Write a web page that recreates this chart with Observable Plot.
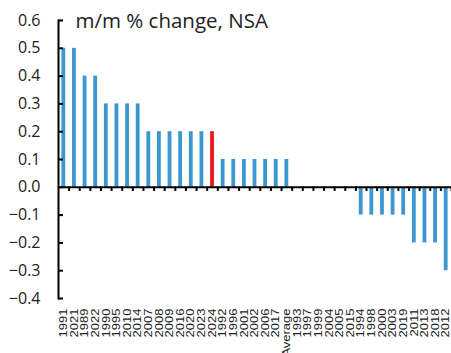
<!DOCTYPE html>
<html><head><meta charset="utf-8">
<script src="https://cdn.jsdelivr.net/npm/d3@7"></script>
<script src="https://cdn.jsdelivr.net/npm/@observablehq/plot@0.6"></script>
<style>body{margin:0;background:#fff}</style>
</head><body><div id="chart"></div>
<script>
const categories = ["1991","2021","1989","2022","1990","1995","2010","2014","2007","2008","2009","2016","2020","2023","2024","1992","1996","2001","2002","2006","2017","Average","1993","1997","1999","2004","2005","2015","1994","1998","2000","2003","2019","2011","2013","2018","2012"];
const values = [0.5,0.5,0.4,0.4,0.3,0.3,0.3,0.3,0.2,0.2,0.2,0.2,0.2,0.2,0.2,0.1,0.1,0.1,0.1,0.1,0.1,0.1,0,0,0,0,0,0,-0.1,-0.1,-0.1,-0.1,-0.1,-0.2,-0.2,-0.2,-0.3];
const highlight = "2024";
const yTicks = [-0.4,-0.3,-0.2,-0.1,0,0.1,0.2,0.3,0.4,0.5,0.6];
const title = "m/m % change, NSA";

const data = categories.map((c, i) => ({cat: c, value: values[i]}));
const W = 451, H = 353, mL = 58, mR = 0, mT = 20, mB = 55;
const step = (W - mL - mR) / categories.length;

const chart = Plot.plot({
  width: W, height: H,
  marginLeft: mL, marginRight: mR, marginTop: mT, marginBottom: mB,
  style: {fontFamily: "'Open Sans', sans-serif", background: "#fff", overflow: "visible"},
  x: {domain: categories, padding: 0, round: false},
  y: {domain: [-0.4, 0.6]},
  marks: [
    Plot.barY(data, {x: "cat", y: "value", insetLeft: 3.4, insetRight: 3.4,
      fill: d => d.cat === highlight ? "#e31b23" : "#3c97cf"}),
    Plot.ruleX(categories, {x: d => d, y1: 0, y2: -0.015, dx: step / 2, stroke: "#000", strokeWidth: 2}),
    Plot.ruleY([0], {stroke: "#000", strokeWidth: 2}),
    Plot.frame({anchor: "left", stroke: "#000", strokeWidth: 2}),
    Plot.axisY({ticks: yTicks, tickFormat: d3.format(".1f"), tickSize: -5, tickPadding: 23,
      fontSize: 16, stroke: "#000", strokeWidth: 2, label: null, color: "#222"}),
    Plot.axisX({anchor: "bottom", tickSize: 0, tickPadding: 10, tickRotate: -90, textAnchor: "end",
      fontSize: 10, fontFamily: "'Liberation Sans', Arial, sans-serif", label: null, color: "#222"}),
    Plot.text([title], {frameAnchor: "top-left", dx: 17, dy: 1, lineAnchor: "middle", textAnchor: "start",
      fontSize: 20.5, fill: "#222"})
  ]
});
document.getElementById("chart").appendChild(chart);
d3.select(chart).selectAll('g[aria-label="x-axis tick label"] text')
  .attr("transform", function() { return (this.getAttribute("transform") || "") + " scale(1.3,1)"; });
</script>
</body></html>
